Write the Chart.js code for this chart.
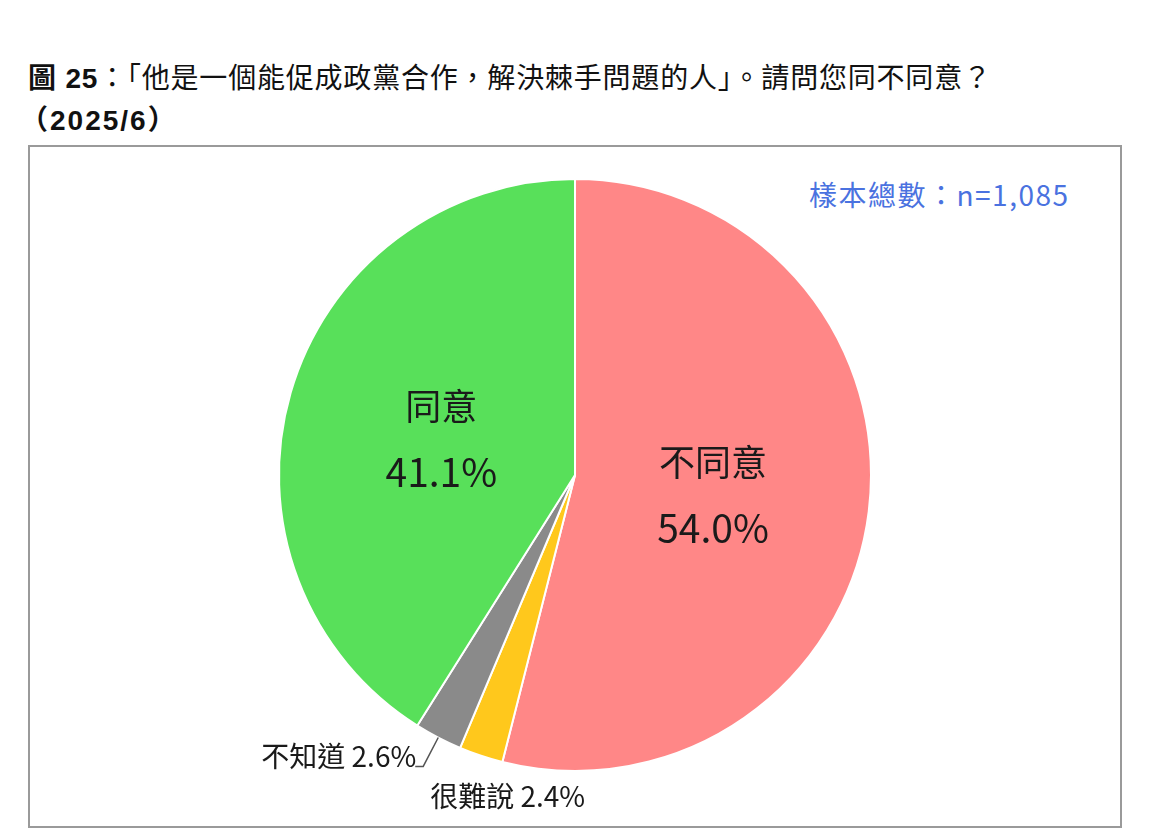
<!DOCTYPE html>
<html lang="zh-Hant">
<head>
<meta charset="utf-8">
<script src="https://cdn.jsdelivr.net/npm/chart.js@4.4.1/dist/chart.umd.min.js"></script>
<style>
    body {
        margin: 0;
        width: 1152px;
        height: 830px;
        background: #fff;
        position: relative;
        overflow: hidden;
        font-family: "Liberation Sans", "Noto Sans CJK TC", sans-serif;
        color: #111;
    }
    #title1 {
        position: absolute;
        left: 28px;
        top: 56px;
        font-size: 28px;
        letter-spacing: 0.8px;
        white-space: nowrap;
    }
    #title2 {
        position: absolute;
        left: 20px;
        top: 98px;
        font-size: 28px;
        font-weight: bold;
        letter-spacing: 2px;
        white-space: nowrap;
    }
    #box {
        position: absolute;
        left: 28px;
        top: 145px;
        width: 1090px;
        height: 679px;
        border: 2px solid #9a9a9a;
    }
    #sample {
        position: absolute;
        left: 809px;
        top: 174px;
        font-family: "Noto Sans CJK TC", sans-serif;
        font-size: 28px;
        letter-spacing: 1.5px;
        color: #4a72e0;
        white-space: nowrap;
    }
    #pieChart {
        position: absolute;
        left: 0;
        top: 0;
    }
</style>
</head>
<body>
<div id="title1"><b>圖 25</b>：「他是一個能促成政黨合作，解決棘手問題的人」。請問您同不同意？</div>
<div id="title2">（2025/6）</div>
<div id="box"></div>
<div id="sample">樣本總數：n=1,085</div>
<div style="position:absolute;left:0;top:0;width:1152px;height:830px;">
    <canvas id="pieChart"></canvas>
</div>

<script>
const categories = ['不同意', '很難說', '不知道', '同意'];
const percentages = [54.0, 2.4, 2.6, 41.1];
const sliceColors = ['#ff8787', '#ffc81c', '#8a8a8a', '#58e05a'];

const ctx = document.getElementById('pieChart').getContext('2d');

// 扇形標籤：大的放在裡面，小的放在外面
const sliceLabels = {
    id: 'sliceLabels',
    afterDatasetsDraw(chart) {
        const c = chart.ctx;
        const arcs = chart.getDatasetMeta(0).data;
        c.save();
        c.fillStyle = '#1a1a1a';
        c.textBaseline = 'middle';
        arcs.forEach((arc, i) => {
            const mid = (arc.startAngle + arc.endAngle) / 2;
            const dx = Math.cos(mid);
            const dy = Math.sin(mid);
            const r = arc.outerRadius;
            const text = percentages[i].toFixed(1) + '%';
            if (percentages[i] > 10) {
                const x = arc.x + dx * r * 0.47;
                const y = arc.y + dy * r * 0.47 + 3;
                c.textAlign = 'center';
                c.font = '36px "Noto Sans CJK TC", sans-serif';
                c.fillText(categories[i], x, y - 33);
                c.font = '39px "Noto Sans CJK TC", sans-serif';
                c.fillText(text, x, y + 33);
            } else if (categories[i] === '不知道') {
                const x0 = arc.x + dx * r;
                const y0 = arc.y + dy * r;
                const x1 = arc.x + dx * r * 1.11;
                const y1 = arc.y + dy * r * 1.11;
                c.strokeStyle = '#555';
                c.lineWidth = 1.5;
                c.beginPath();
                c.moveTo(x0, y0);
                c.lineTo(x1, y1);
                c.lineTo(x1 - 8, y1);
                c.stroke();
                c.font = '28px "Noto Sans CJK TC", sans-serif';
                c.textAlign = 'right';
                c.fillText(categories[i] + ' ' + text, x1 - 7, y1 - 10);
            } else {
                const x = arc.x + dx * r * 1.11 + 37;
                const y = arc.y + dy * r * 1.11 + 10;
                c.font = '28px "Noto Sans CJK TC", sans-serif';
                c.textAlign = 'center';
                c.fillText(categories[i] + ' ' + text, x, y);
            }
        });
        c.restore();
    },
};

new Chart(ctx, {
    type: 'pie',
    data: {
        labels: categories,
        datasets: [
            {
                data: percentages,
                backgroundColor: sliceColors,
                borderColor: '#ffffff',
                borderWidth: 2,
            },
        ],
    },
    options: {
        responsive: true,
        maintainAspectRatio: false,
        animation: false,
        layout: {
            padding: { left: 277, right: 279, top: 178, bottom: 58 },
        },
        plugins: {
            legend: { display: false },
            tooltip: { enabled: false },
        },
    },
    plugins: [sliceLabels],
});
</script>
</body>
</html>
